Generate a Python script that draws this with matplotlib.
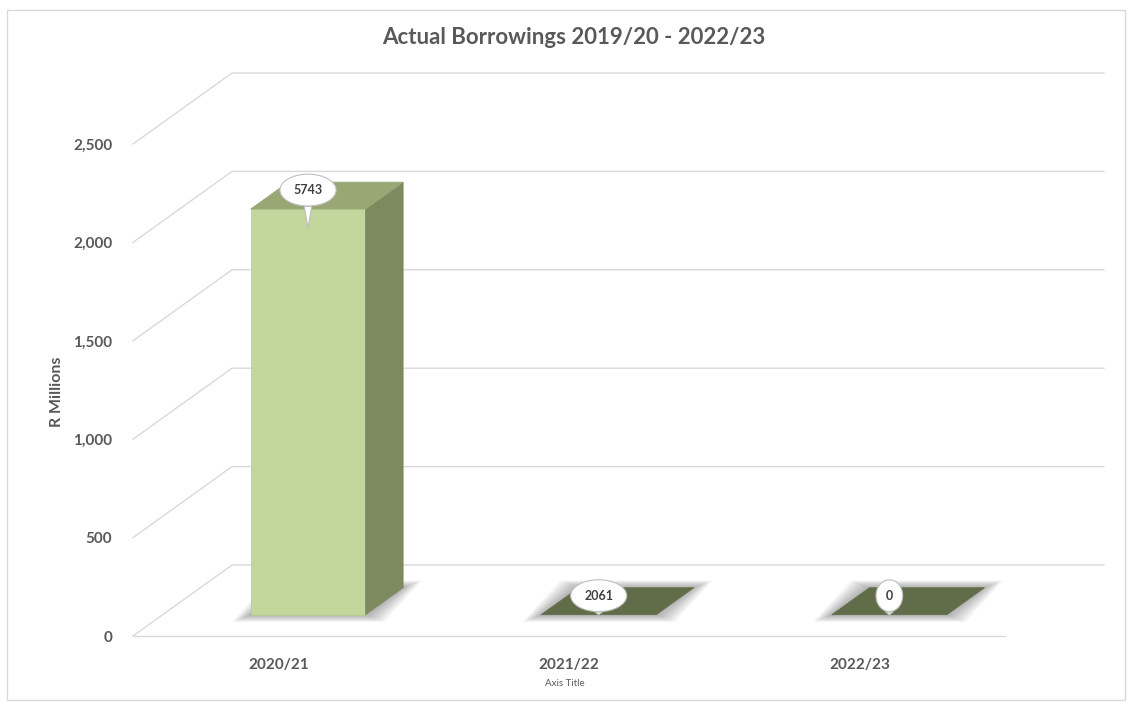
import matplotlib.pyplot as plt
from matplotlib.patches import Polygon, Rectangle
from matplotlib.path import Path
from matplotlib.transforms import Affine2D

plt.rcParams['font.family'] = ['Lato', 'DejaVu Sans']

categories = ['2020/21', '2021/22', '2022/23']
bar_heights = [2061, 0, 0]
label_values = ['5743', '2061', '0']
yticks = [0, 500, 1000, 1500, 2000, 2500]

title = 'Actual Borrowings 2019/20 - 2022/23'
text_col = '#595959'
grid_col = '#d9d9d9'
front_col = '#c3d69b'
top_col = '#99a775'
side_col = '#7d8a5f'
flat_col = '#616c48'


def ellipse_box(x0, y0, width, height, mutation_size):
    # oval callout like excel's data labels
    pad = 0.5 * mutation_size
    rx = (width / 2 + pad) * 1.35
    ry = (height / 2 + pad) * 1.3
    return Path.unit_circle().transformed(
        Affine2D().scale(rx, ry).translate(x0 + width / 2, y0 + height / 2))


W, H = 1132, 704
fig = plt.figure(figsize=(W / 100, H / 100), dpi=100)
fig.patches.append(Rectangle((7 / W, 4 / H), 1118 / W, 690 / H, transform=fig.transFigure,
                             fill=False, ec=grid_col, lw=1))

# front plane of the 3d box
ax = fig.add_axes([133 / W, 68 / H, 872 / W, 492 / H])
ax.set_xlim(0, len(categories))
ax.set_ylim(0, yticks[-1])
ax.patch.set_visible(False)
for s in ax.spines.values():
    s.set_visible(False)

# pixel -> data scale, depth of the floor
sx = len(categories) / 872
sy = yticks[-1] / 492
ddx, ddy = 99 * sx, 71 * sy
d0, d1 = 0.3, 0.68
w = 115 * sx

for v in yticks:
    ax.plot([0, ddx, len(categories) + ddx], [v, v + ddy, v + ddy], color=grid_col, lw=1,
            clip_on=False, zorder=1)
ax.plot([0, len(categories)], [0, 0], color=grid_col, lw=1, clip_on=False, zorder=1)

ax.set_yticks(yticks, labels=[f'{v:,}' for v in yticks])
ax.set_xticks([i + 0.5 for i in range(len(categories))], labels=categories)
ax.tick_params(length=0, labelsize=11, labelcolor=text_col)
ax.tick_params(axis='y', pad=15)
ax.tick_params(axis='x', pad=16)
for t in ax.get_xticklabels() + ax.get_yticklabels():
    t.set_fontweight('bold')

for i, (h, lab) in enumerate(zip(bar_heights, label_values)):
    x0 = i + 0.5 - w / 2 + d0 * ddx
    y0 = d0 * ddy
    x1 = x0 + w
    bx, by = (d1 - d0) * ddx, (d1 - d0) * ddy

    # soft shadow under the base
    for k in range(1, 9):
        e, ev = k * 2.3 * sx, k * 0.9 * sy
        ax.add_patch(Polygon([(x0 - e, y0 - ev), (x1 + e, y0 - ev),
                              (x1 + bx + e, y0 + by + ev), (x0 + bx - e, y0 + by + ev)],
                             closed=True, fc='#303030', ec='none', alpha=0.05,
                             clip_on=False, zorder=2))

    if h > 0:
        ax.add_patch(Polygon([(x0, y0), (x1, y0), (x1, y0 + h), (x0, y0 + h)],
                             fc=front_col, ec='#b5c88e', lw=0.5, clip_on=False, zorder=3))
        ax.add_patch(Polygon([(x1, y0), (x1 + bx, y0 + by), (x1 + bx, y0 + by + h), (x1, y0 + h)],
                             fc=side_col, ec=side_col, lw=0.5, clip_on=False, zorder=3))
        ax.add_patch(Polygon([(x0, y0 + h), (x1, y0 + h), (x1 + bx, y0 + by + h), (x0 + bx, y0 + by + h)],
                             fc=top_col, ec=top_col, lw=0.5, clip_on=False, zorder=3))
    else:
        ax.add_patch(Polygon([(x0, y0), (x1, y0), (x1 + bx, y0 + by), (x0 + bx, y0 + by)],
                             fc=flat_col, ec=flat_col, lw=0.5, clip_on=False, zorder=3))

    xc = (x0 + x1) / 2
    dip = 19 if h > 0 else 0
    ax.annotate(lab, xy=(xc, y0 + h - dip * sy), xytext=(0, 19 + dip), textcoords='offset pixels',
                ha='center', va='center', fontsize=9, fontweight='bold', color='#404040',
                bbox=dict(boxstyle=ellipse_box, fc='white', ec='#bfbfbf', lw=0.8),
                arrowprops=dict(arrowstyle='wedge,tail_width=0.6,shrink_factor=0.5', fc='white',
                                ec='#bfbfbf', lw=0.8, shrinkA=0, shrinkB=0),
                annotation_clip=False, zorder=5)

fig.text(574 / W, 1 - 37 / H, title, ha='center', va='center', fontsize=16, fontweight='bold',
         color=text_col)
fig.text(57 / W, 1 - 392 / H, 'R Millions', ha='center', va='center', rotation=90, fontsize=11.5,
         fontweight='bold', color=text_col)
fig.text(565 / W, 1 - 684 / H, 'Axis Title', ha='center', va='center', fontsize=7, color=text_col)

fig.savefig('out.png', dpi=100)
